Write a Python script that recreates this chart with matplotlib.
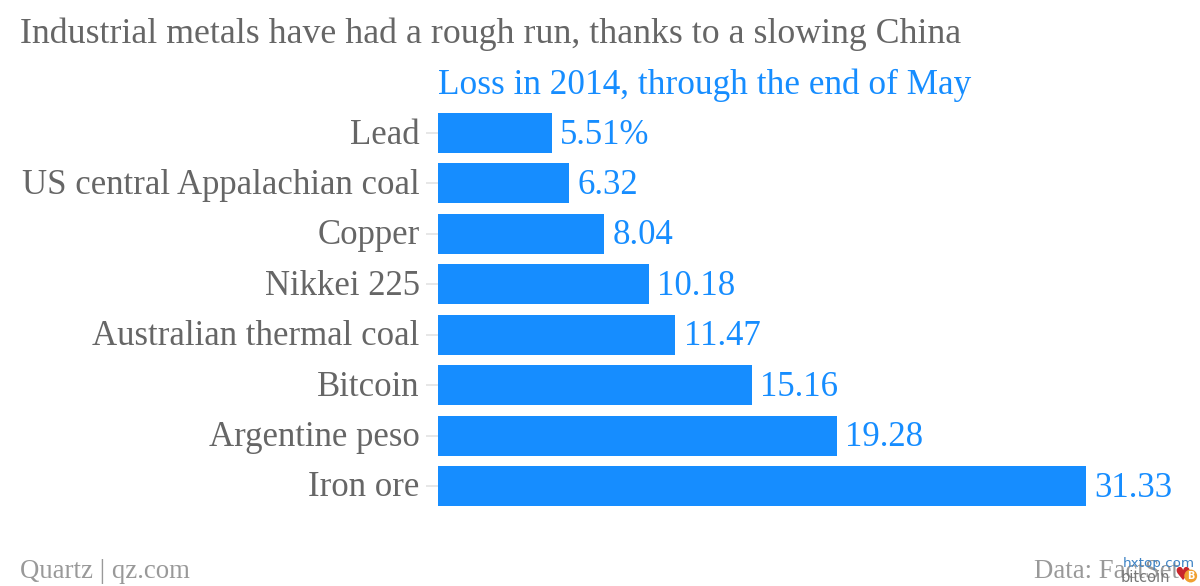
import matplotlib
matplotlib.use("Agg")
import matplotlib.pyplot as plt
from matplotlib.transforms import ScaledTranslation

categories = ["Lead", "US central Appalachian coal", "Copper", "Nikkei 225",
              "Australian thermal coal", "Bitcoin", "Argentine peso", "Iron ore"]
losses = [5.51, 6.32, 8.04, 10.18, 11.47, 15.16, 19.28, 31.33]
value_labels = ["5.51%", "6.32", "8.04", "10.18", "11.47", "15.16", "19.28", "31.33"]

BLUE = "#168dff"
GREY = "#666666"
W, H = 1200, 586

plt.rcParams["font.family"] = ["Liberation Serif", "DejaVu Serif"]

fig = plt.figure(figsize=(W / 100, H / 100), dpi=100, facecolor="white")
ax = fig.add_axes([438 / W, 1 - 511.2 / H, (1086 - 438) / W, (511.2 - 107.8) / H])

y = list(range(len(categories)))
ax.barh(y, losses, height=0.794, color=BLUE)
ax.set_xlim(0, 31.33)
ax.set_ylim(len(categories) - 0.5, -0.5)

for spine in ax.spines.values():
    spine.set_visible(False)
ax.set_xticks([])
ax.set_yticks(y)
ax.set_yticklabels(categories, fontsize=25.05, color=GREY)
ax.tick_params(axis="y", length=8.6, width=1.2, color="#e3e3e3", pad=4.6)

# tick labels sit a little above the bar centre
for label in ax.get_yticklabels():
    label.set_transform(label.get_transform() + ScaledTranslation(0, 2 / 100, fig.dpi_scale_trans))

for i, v in enumerate(losses):
    ax.annotate(value_labels[i], (v, i), xytext=(6, -1.5), textcoords="offset points",
                va="center", ha="left", fontsize=25, color=BLUE)

fig.text(20 / W, 1 - 34 / H, "Industrial metals have had a rough run, thanks to a slowing China",
         fontsize=25.77, color=GREY, va="center", ha="left")
fig.text(438 / W, 1 - 85 / H, "Loss in 2014, through the end of May",
         fontsize=25.4, color=BLUE, va="center", ha="left")
fig.text(20 / W, 1 - 571 / H, "Quartz | qz.com", fontsize=19.3, color="#999999", va="center", ha="left")
fig.text(1034 / W, 1 - 571 / H, "Data: FactSet", fontsize=19.3, color="#999999", va="center", ha="left")

# site watermark over the footer
fig.text(1123 / W, 1 - 563 / H, "hxtop.com", fontsize=9.7, color="#3d82c4", va="center", ha="left",
         family=["DejaVu Sans"])
fig.text(1121 / W, 1 - 577 / H, "bitcoin", fontsize=10.5, color="#777777", va="center", ha="left",
         family=["DejaVu Sans"])
fig.text(1174 / W, 1 - 575 / H, "\u2665", fontsize=13, color="#c9252b", va="center", ha="left",
         family=["DejaVu Sans"])
fig.text(1187 / W, 1 - 576 / H, "B", fontsize=7, color="white", va="center", ha="left", fontweight="bold",
         family=["DejaVu Sans"],
         bbox=dict(boxstyle="circle,pad=0.15", facecolor="#f0a030", edgecolor="none"))

fig.savefig("out.png", dpi=100)
